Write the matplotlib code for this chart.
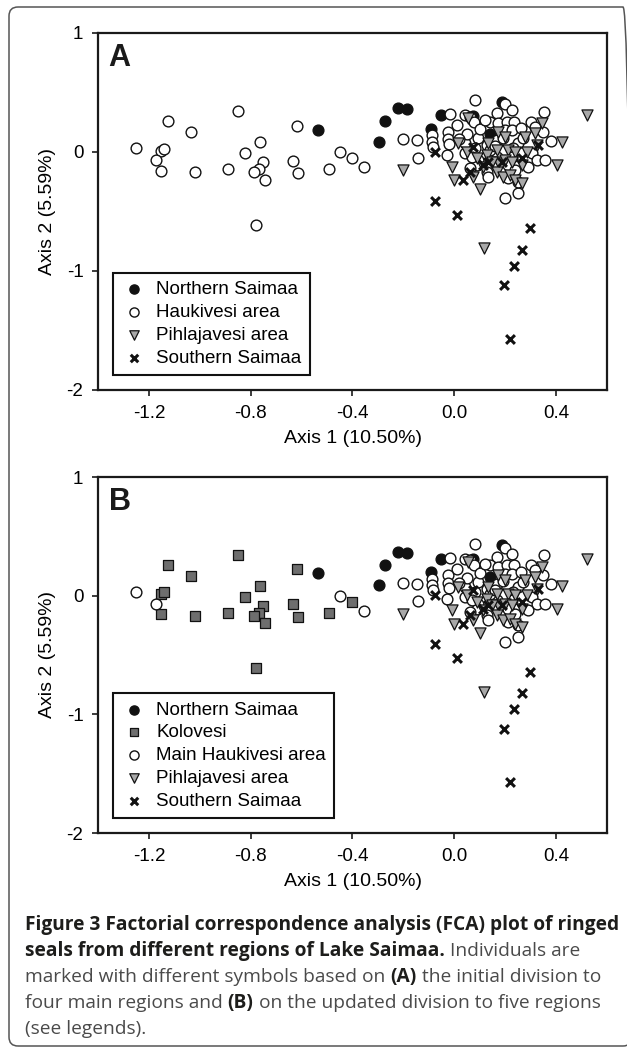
import matplotlib
matplotlib.use("Agg")
import matplotlib.pyplot as plt
from matplotlib.patches import FancyBboxPatch
from matplotlib.transforms import IdentityTransform

plt.rcParams["font.family"] = ["Liberation Sans", "DejaVu Sans"]
plt.rcParams["axes.unicode_minus"] = False

# ---------------------------------------------------------------------------
# FCA scores (Axis 1, Axis 2)
# ---------------------------------------------------------------------------
north_x = [-0.537, -0.297, -0.272, -0.220, -0.187, -0.090, -0.052, 0.186,
           0.075, 0.140]
north_y = [0.188, 0.088, 0.260, 0.367, 0.359, 0.196, 0.308, 0.423,
           0.305, 0.155]

# western Haukivesi individuals that become "Kolovesi" in panel B
kolovesi_x = [-1.124, -1.152, -1.141, -1.154, -1.033, -1.018, -0.851, -0.889,
              -0.824, -0.765, -0.753, -0.766, -0.787, -0.745, -0.779, -0.617,
              -0.634, -0.614, -0.491, -0.402]
kolovesi_y = [0.260, 0.011, 0.028, -0.157, 0.168, -0.168, 0.345, -0.146,
              -0.008, 0.084, -0.084, -0.143, -0.168, -0.233, -0.613, 0.221,
              -0.073, -0.179, -0.146, -0.053]

haukivesi_x = [-1.252, -1.172, -0.448, -0.355, -0.203, -0.145, -0.141,
               0.081, 0.199, 0.228, -0.017, 0.042, 0.061, 0.079, 0.012, 0.167,
               0.140, 0.173, 0.206, 0.236, 0.199, 0.228, 0.301, 0.317, 0.354,
               0.350, 0.380, -0.086, -0.086, -0.024, -0.026, -0.021, -0.082,
               -0.030, 0.042, 0.094, 0.127, 0.167, 0.081, 0.042, 0.094, 0.088,
               0.127, 0.134, 0.167, 0.251, 0.271, 0.232, 0.225, 0.304, 0.324,
               0.356, 0.212, 0.238, 0.199, 0.251, 0.251, 0.212, 0.291, 0.068,
               0.062, 0.140, 0.100, 0.050, 0.160, 0.120, 0.020, 0.190, 0.262]
haukivesi_y = [0.031, -0.067, 0.000, -0.129, 0.109, 0.101, -0.048,
               0.437, 0.403, 0.353, 0.319, 0.311, 0.297, 0.255, 0.227, 0.325,
               0.255, 0.241, 0.255, 0.255, 0.185, 0.185, 0.255, 0.213, 0.339,
               0.171, 0.095, 0.143, 0.087, 0.171, 0.107, 0.067, 0.045,
               -0.025, 0.073, 0.115, 0.059, 0.101, 0.031, -0.011, -0.067, -0.109,
               -0.165, -0.207, -0.039, 0.073, 0.115, 0.031, -0.039, -0.011, -0.067,
               -0.067, -0.109, -0.151, -0.389, -0.347, -0.249, -0.221, -0.123, -0.039,
               -0.137, 0.017, 0.190, 0.150, 0.050, 0.270, 0.110, 0.120, 0.200]

pihla_x = [0.520, 0.343, 0.317, 0.424, 0.402, -0.200, -0.008, 0.000, 0.101,
           0.117, 0.013, 0.055, 0.134, 0.173, 0.199, 0.278, 0.049, 0.127,
           0.167, 0.212, 0.238, 0.285, 0.324, 0.173, 0.199, 0.228, 0.265,
           0.167, 0.193, 0.219, 0.238, 0.265, 0.075, 0.114, 0.088, 0.147]
pihla_y = [0.311, 0.241, 0.157, 0.081, -0.109, -0.151, -0.123, -0.235, -0.313,
           -0.810, 0.073, 0.283, 0.073, 0.171, 0.129, 0.129, 0.003, -0.025,
           0.017, 0.017, 0.003, 0.003, 0.059, -0.081, -0.067, -0.081, -0.109,
           -0.165, -0.207, -0.193, -0.235, -0.263, -0.207, -0.123, -0.053, -0.081]

south_x = [-0.076, -0.075, 0.009, 0.297, 0.265, 0.235, 0.195, 0.219, 0.035,
           0.062, 0.114, 0.134, 0.075, 0.265, 0.330, 0.186]
south_y = [0.003, -0.410, -0.529, -0.641, -0.824, -0.955, -1.120, -1.571,
           -0.235, -0.165, -0.109, -0.081, 0.045, -0.053, 0.059, -0.081]

x_ticks = [-1.2, -0.8, -0.4, 0.0, 0.4]
x_ticklabels = ["-1.2", "-0.8", "-0.4", "0.0", "0.4"]
y_ticks = [-2, -1, 0, 1]
y_ticklabels = ["-2", "-1", "0", "1"]

W, H = 627, 1047

STYLE = {
    "north": dict(marker="o", s=60, facecolor="#111111", edgecolor="#111111",
                  linewidths=1.0),
    "open": dict(marker="o", s=60, facecolor="white", edgecolor="#111111",
                 linewidths=1.0),
    "kolo": dict(marker="s", s=46, facecolor="#6e6e6e", edgecolor="#111111",
                 linewidths=0.9),
    "pihla": dict(marker="v", s=64, facecolor="#a8a8a8", edgecolor="#111111",
                  linewidths=0.9),
    "south": dict(marker="x", s=40, color="#111111", linewidths=2.2),
}


def style_axes(ax, letter):
    ax.set_xlim(-1.4, 0.6)
    ax.set_ylim(-2, 1)
    ax.set_xticks(x_ticks, x_ticklabels)
    ax.set_yticks(y_ticks, y_ticklabels)
    ax.tick_params(direction="out", length=4.5, width=1.2, labelsize=13.5,
                   pad=6, top=False, right=False, color="#1a1a1a")
    for sp in ax.spines.values():
        sp.set_linewidth(1.6)
        sp.set_color("#1a1a1a")
    ax.set_xlabel("Axis 1 (10.50%)", fontsize=14)
    ax.set_ylabel("Axis 2 (5.59%)", fontsize=14)
    ax.xaxis.set_label_coords(0.5, -0.112)
    ax.yaxis.set_label_coords(-0.082, 0.5)
    ax.text(0.021, 0.907, letter, transform=ax.transAxes, fontsize=22,
            fontweight="bold", va="baseline", ha="left", color="#1a1a1a")


def add_legend(ax, handles, labels):
    leg = ax.legend(handles, labels, loc="lower left",
                    bbox_to_anchor=(15 / 509, 15 / 357), borderaxespad=0,
                    fontsize=13.5, frameon=True, fancybox=False,
                    edgecolor="#111111", framealpha=1, handlelength=1.3,
                    handletextpad=0.55, borderpad=0.45, labelspacing=0.3,
                    markerscale=0.85)
    leg.get_frame().set_linewidth(1.5)


fig = plt.figure(figsize=(W / 100, H / 100), dpi=100)
fig.patch.set_facecolor("white")

# --- panel A: four regions ------------------------------------------------
axA = fig.add_axes([98 / W, 1 - 390 / H, 509 / W, 357 / H])
hA = [
    axA.scatter(north_x, north_y, **STYLE["north"]),
    axA.scatter(kolovesi_x + haukivesi_x, kolovesi_y + haukivesi_y,
                **STYLE["open"]),
    axA.scatter(pihla_x, pihla_y, **STYLE["pihla"]),
    axA.scatter(south_x, south_y, **STYLE["south"]),
]
style_axes(axA, "A")
add_legend(axA, hA, ["Northern Saimaa", "Haukivesi area", "Pihlajavesi area",
                     "Southern Saimaa"])

# --- panel B: five regions ------------------------------------------------
axB = fig.add_axes([98 / W, 1 - 833 / H, 509 / W, 356 / H])
hB = [
    axB.scatter(north_x, north_y, **STYLE["north"]),
    axB.scatter(kolovesi_x, kolovesi_y, **STYLE["kolo"]),
    axB.scatter(haukivesi_x, haukivesi_y, **STYLE["open"]),
    axB.scatter(pihla_x, pihla_y, **STYLE["pihla"]),
    axB.scatter(south_x, south_y, **STYLE["south"]),
]
style_axes(axB, "B")
add_legend(axB, hB, ["Northern Saimaa", "Kolovesi", "Main Haukivesi area",
                     "Pihlajavesi area", "Southern Saimaa"])

# --- caption (mixed bold / regular runs, laid out by measured width) -------
CAP_FAMILY = ["Open Sans", "DejaVu Sans"]
caption = [
    [("Figure 3 Factorial correspondence analysis (FCA) plot of ringed", True)],
    [("seals from different regions of Lake Saimaa.", True),
     ("Individuals are", False)],
    [("marked with different symbols based on", False), ("(A)", True),
     ("the initial division to", False)],
    [("four main regions and", False), ("(B)", True),
     ("on the updated division to five regions", False)],
    [("(see legends).", False)],
]
baselines = [930, 956, 982, 1008, 1034]

renderer = fig.canvas.get_renderer()


def text_width(s, size, bold):
    t = fig.text(0, 0, s, fontsize=size, family=CAP_FAMILY,
                 fontweight="bold" if bold else "normal")
    w = t.get_window_extent(renderer=renderer).width
    t.remove()
    return w


size = 16.0
size *= 595 / text_width(caption[0][0][0], size, True)

for line, yb in zip(caption, baselines):
    x = 25.0
    for i, (s, bold) in enumerate(line):
        if i > 0:
            x += text_width("a a", size, bold) - text_width("aa", size, bold)
        fig.text(x / W, 1 - yb / H, s, fontsize=size, family=CAP_FAMILY,
                 fontweight="bold" if bold else "normal",
                 color="#1d1d1b" if bold else "#4a4a4a",
                 ha="left", va="baseline")
        x += text_width(s, size, bold)

# --- rounded frame around the figure (right side falls off the image) ------
frame = FancyBboxPatch((9, 1), 623, 1039,
                       boxstyle="round,pad=0,rounding_size=9",
                       transform=IdentityTransform(), facecolor="none",
                       edgecolor="#555555", linewidth=1.1)
fig.add_artist(frame)

fig.savefig("out.png", dpi=100, facecolor=fig.get_facecolor())
